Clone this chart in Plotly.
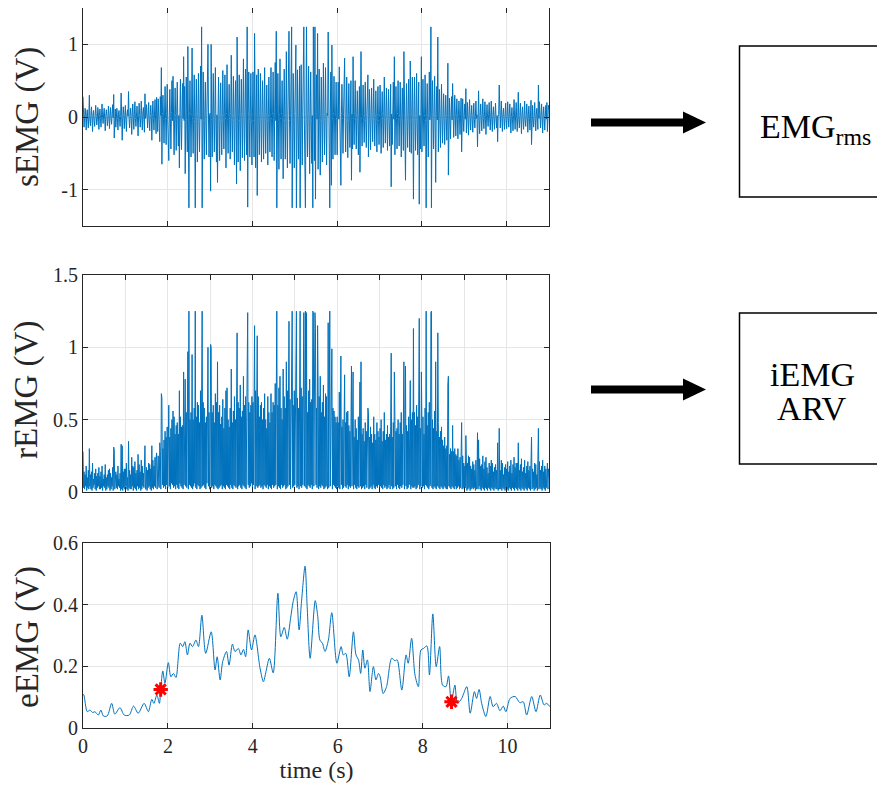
import numpy as np
import plotly.graph_objects as go

# ---------------- data ----------------
dt = 0.0125  # seconds between sEMG samples

semg = [
    0.28, 0.03, -0.14, -0.02, 0.12, 0.04, -0.18, 0.01, 0.10, -0.03, -0.15, 0.02, 0.30, -0.04, -0.12, 0.02,
    0.14, -0.01, -0.20, 0.03, 0.09, -0.05, -0.13, 0.02, 0.16, 0.01, -0.11, -0.03, 0.13, 0.04, -0.17, 0.02,
    0.11, -0.02, -0.14, 0.03, 0.18, -0.01, -0.09, 0.04, 0.12, -0.03, -0.19, 0.01, 0.10, 0.02, -0.12, -0.04,
    0.15, 0.03, -0.16, 0.01, 0.13, -0.02, -0.10, 0.04, 0.17, -0.01, 0.31, -0.29, 0.02, 0.11, -0.14, 0.03,
    0.12, -0.02, -0.18, 0.04, 0.09, -0.03, -0.13, 0.01, 0.33, 0.02, -0.32, -0.01, 0.14, 0.03, -0.16, 0.02,
    0.16, -0.04, -0.20, 0.02, 0.10, 0.01, 0.35, -0.03, -0.15, 0.02, 0.12, -0.02, -0.24, 0.04, 0.18, -0.01,
    -0.17, 0.03, 0.21, -0.02, -0.13, 0.01, 0.15, -0.04, -0.26, 0.02, 0.19, 0.03, -0.14, -0.01, 0.22, 0.02,
    -0.18, 0.04, 0.13, -0.03, -0.21, 0.32, -0.02, 0.02, 0.17, -0.01, -0.15, 0.03, 0.20, -0.04, -0.19, 0.02,
    0.16, 0.01, -0.32, 0.03, 0.22, -0.02, -0.18, 0.04, 0.24, -0.03, -0.23, 0.27, 0.02, -0.20, 0.25, -0.04,
    0.03, -0.34, 0.28, 0.02, 0.68, -0.65, 0.05, 0.30, -0.03, -0.36, 0.04, 0.42, -0.02, -0.38, 0.05, 0.45,
    -0.03, -0.48, -0.60, 0.04, 0.38, -0.02, -0.44, 0.06, 0.50, -0.05, 0.56, 0.03, -0.52, -0.04, 0.40, 0.02,
    -0.46, 0.05, 0.48, -0.03, -0.40, 0.02, -0.70, 0.06, 0.52, -0.04, -0.45, 0.03, 0.46, -0.02, 0.83, -0.05,
    0.42, -0.78, 0.04, 0.55, -0.03, -0.48, 0.97, 0.02, -1.25, 0.05, 0.50, -0.04, -0.55, 0.03, 0.95, -0.02,
    -0.50, 0.04, 0.58, -0.06, -1.25, 0.03, 0.52, -0.02, -0.62, 0.05, 0.60, -0.04, -0.48, 0.02, 0.70, -0.03,
    1.24, -1.25, 0.04, 0.62, -0.05, -0.58, 0.03, 0.48, -0.02, -0.52, 0.06, 0.75, 1.00, -0.04, -0.55, 0.02,
    0.05, -1.02, 1.00, -0.03, -0.55, 0.04, 0.60, -0.02, -0.48, 0.05, 0.68, -0.04, -0.62, 0.03, -0.90, 0.02,
    0.55, -0.03, -0.60, 0.04, 0.47, -0.05, -0.52, 0.02, 0.64, -0.04, -0.44, 0.03, 0.58, -0.02, -0.70, 0.05,
    0.72, -0.04, -0.50, 0.03, 0.45, -0.02, -0.58, 0.05, 0.85, -0.03, -0.48, 0.02, 0.56, -0.05, -0.66, 0.04,
    0.50, -0.03, -0.92, 1.10, 0.02, -0.62, 0.04, 0.58, -0.05, -0.74, 0.03, 0.52, -0.02, -0.56, 0.05, 0.80,
    -0.04, -0.60, 0.03, 0.66, -0.02, -0.52, 1.24, -1.24, 0.05, 0.62, -0.03, -0.55, 0.04, 0.60, -0.06, -0.66,
    0.03, 0.62, -0.05, -0.55, 1.15, -0.02, -0.70, 0.04, 0.58, -1.08, 0.03, 0.66, -0.04, -0.52, 0.05, 0.60,
    -0.03, -0.62, 0.04, 0.50, -0.02, -0.58, 0.05, 0.68, -0.04, -0.50, 0.03, 0.44, -0.05, -0.66, 0.02, 0.55,
    -0.04, -0.48, 0.03, 0.68, -0.02, -0.55, 0.05, 0.62, -0.03, -0.60, 0.04, 0.75, -0.05, 1.18, -1.25, 0.02,
    0.60, -0.04, -0.72, 0.03, 0.80, -0.02, -0.58, 0.05, 0.50, -0.03, -0.85, 0.04, 0.66, -0.05, -0.58, 0.02,
    0.90, -0.03, -0.70, 0.04, 0.62, 1.18, -0.05, -0.64, 0.02, 0.75, 1.24, -1.25, 0.03, 0.60, -0.04, -0.70,
    0.05, 0.72, 0.99, -1.25, 0.03, 0.65, -0.04, -0.58, 0.02, 0.70, -1.25, 0.04, 0.72, -0.03, -0.66, 0.05,
    0.60, 1.24, -0.04, -0.68, -1.25, 0.03, 1.24, -0.02, -0.55, 0.05, 0.70, -0.04, -0.78, 0.03, 0.62, -0.05,
    -0.64, 0.02, -1.25, 1.24, 0.04, -0.60, 1.24, -1.13, 0.05, 0.58, -0.03, 1.15, -0.72, 0.02, 0.66, -0.04,
    -0.80, 0.03, 0.55, -0.05, -0.62, 0.04, 0.74, -0.02, -0.52, 0.03, 0.68, -0.04, -0.66, 0.05, 0.02, 1.17,
    -0.03, -0.58, -1.25, 0.04, 0.62, -0.94, 0.99, -0.02, -0.58, 0.05, 0.56, -0.04, -0.52, 0.03, 0.48, -0.02,
    -0.52, 0.04, 0.48, -0.03, 0.69, 0.02, -0.45, -0.94, 0.05, 0.45, -0.02, -0.50, 0.03, 0.40, 0.81, -0.04,
    -0.48, 0.03, 0.55, -0.05, -0.56, 0.02, 0.46, -0.04, -0.42, 0.03, 0.50, -0.87, 0.04, -0.44, 0.83, -0.02,
    -0.38, 0.05, 0.50, -0.03, -0.44, 0.02, 0.36, -0.04, -0.52, 0.03, 0.42, -0.76, 0.04, 0.90, -0.02, -0.40,
    0.03, 0.44, -0.04, -0.35, 0.02, 0.48, -0.05, -0.42, 0.03, 0.40, 0.58, -0.55, 0.02, 0.38, -0.03, -0.45,
    0.04, 0.40, -0.02, -0.34, 0.05, 0.52, -0.03, -0.40, 0.02, 0.36, -0.04, -0.48, 0.03, 0.42, -0.05, -0.38,
    0.02, 0.44, -0.04, -0.50, 0.03, 0.35, -0.02, -0.42, 0.05, 0.55, -0.03, -0.36, 0.04, 0.40, -0.02, -0.46,
    0.03, 0.38, -0.05, -0.40, 0.02, 0.45, -0.96, 0.04, -0.38, 0.02, 0.48, -0.03, 0.83, -0.52, 0.04, 0.42,
    -0.02, -0.44, 0.05, 0.50, -0.03, -0.40, 0.02, 0.48, -0.04, -0.55, 0.03, 0.40, -0.05, -0.46, 0.90, 0.02,
    -0.48, -0.87, 0.04, 0.46, -0.02, -0.42, 0.03, 0.52, -0.05, -0.48, 0.77, 0.02, -0.50, 0.04, 0.55, -0.03,
    -1.13, 0.03, 0.55, -0.04, -0.46, 0.02, 0.60, -0.03, -0.52, 0.05, 0.48, -1.20, 0.02, -0.44, 0.04, 0.83,
    -0.48, 0.03, 0.52, -0.04, -0.40, 0.02, 0.58, -0.05, -1.25, 0.04, 0.46, -0.03, -0.55, 0.02, 0.62, -0.04,
    0.05, 1.24, -1.25, 0.03, 0.50, -0.02, -0.44, 0.04, 0.56, -0.03, -0.90, 0.02, 0.42, -0.04, 1.10, -0.48,
    0.03, 0.38, -0.02, -0.42, 0.04, 0.45, -0.03, -0.36, 0.02, 0.32, -0.04, -0.38, 0.03, 0.30, -0.02, -0.32,
    0.02, 0.74, -0.80, 0.04, 0.26, -0.03, -0.30, 0.02, 0.28, -0.04, 0.46, 0.03, -0.28, -0.02, 0.30, 0.04,
    -0.26, 0.02, 0.25, -0.03, -0.30, 0.04, 0.22, -0.02, -0.24, 0.03, 0.26, -0.48, 0.02, 0.25, -0.03, -0.20,
    0.02, 0.18, -0.03, 0.39, -0.22, 0.01, 0.20, -0.02, -0.25, 0.03, 0.24, -0.01, -0.18, 0.02, 0.16, -0.03,
    -0.21, 0.02, 0.19, -0.03, -0.15, 0.01, 0.22, -0.02, 0.03, -0.41, 0.02, 0.36, -0.04, -0.23, 0.02, 0.18,
    -0.01, -0.19, 0.03, 0.25, -0.02, -0.16, 0.01, 0.21, -0.03, -0.24, 0.02, 0.17, -0.01, -0.13, 0.03, 0.20,
    -0.02, -0.18, 0.01, 0.22, -0.03, -0.20, 0.02, 0.14, -0.01, -0.17, 0.03, 0.19, -0.02, -0.15, 0.02, -0.34,
    0.01, 0.03, 0.44, -0.02, -0.15, 0.02, 0.22, -0.01, -0.20, 0.03, 0.12, -0.02, -0.17, 0.01, 0.19, -0.03,
    -0.16, 0.02, 0.21, -0.01, -0.14, 0.03, 0.18, -0.02, -0.22, 0.01, 0.13, -0.03, -0.19, 0.02, 0.24, -0.01,
    -0.17, 0.03, 0.20, -0.02, -0.20, 0.01, 0.34, -0.03, -0.15, 0.02, 0.19, -0.01, -0.23, 0.03, 0.14, -0.02,
    -0.17, 0.01, 0.22, -0.03, -0.13, 0.02, 0.18, -0.01, -0.21, 0.03, 0.15, -0.02, -0.18, 0.01, 0.23, -0.38,
    0.02, 0.16, -0.03, -0.14, 0.01, 0.20, -0.02, -0.19, 0.03, 0.12, -0.01, -0.17, 0.44, -0.02, 0.21, -0.03,
    -0.15, 0.02, 0.18, -0.01, -0.22, 0.03, 0.14, -0.02, -0.18, 0.01, 0.16, -0.03, 0.20, -0.20, 0.02, 0.16,
    0.10,
]

eemg_t = [0.0, 0.02, 0.10, 0.165, 0.23, 0.28, 0.36, 0.42, 0.48, 0.57, 0.675, 0.75, 0.87, 0.97,
          1.09, 1.19, 1.30, 1.44, 1.54, 1.62, 1.67, 1.74, 1.80, 1.83, 1.88, 1.93, 2.01, 2.07,
          2.13, 2.19, 2.29, 2.35, 2.40, 2.46, 2.52, 2.58, 2.66, 2.72, 2.80, 2.89, 3.02, 3.11,
          3.16, 3.23, 3.29, 3.38, 3.44, 3.52, 3.58, 3.66, 3.72, 3.78, 3.83, 3.89, 3.97, 4.05,
          4.17, 4.25, 4.31, 4.39, 4.48, 4.59, 4.66, 4.74, 4.81, 4.89, 4.95, 5.02, 5.09, 5.15,
          5.23, 5.28, 5.35, 5.47, 5.53, 5.58, 5.64, 5.70, 5.78, 5.86, 5.98, 6.08, 6.13, 6.19,
          6.27, 6.37, 6.43, 6.49, 6.54, 6.59, 6.64, 6.70, 6.76, 6.84, 6.90, 6.96, 7.00, 7.07,
          7.15, 7.27, 7.35, 7.40, 7.51, 7.61, 7.66, 7.74, 7.82, 7.90, 7.96, 8.02, 8.10, 8.16,
          8.24, 8.32, 8.40, 8.47, 8.55, 8.61, 8.66, 8.68, 8.76, 8.82, 8.92, 9.04, 9.12, 9.22,
          9.27, 9.33, 9.39, 9.49, 9.59, 9.66, 9.74, 9.82, 9.90, 9.96, 10.06, 10.18, 10.29,
          10.37, 10.45, 10.57, 10.67, 10.77, 10.86, 10.92, 11.0]
eemg_v = [0.110, 0.107, 0.053, 0.058, 0.050, 0.053, 0.042, 0.058, 0.039, 0.039, 0.080, 0.045,
          0.066, 0.042, 0.042, 0.071, 0.048, 0.080, 0.053, 0.093, 0.080, 0.107, 0.080, 0.125,
          0.185, 0.145, 0.212, 0.166, 0.177, 0.164, 0.275, 0.264, 0.280, 0.237, 0.275, 0.264,
          0.285, 0.264, 0.366, 0.242, 0.312, 0.188, 0.231, 0.156, 0.215, 0.248, 0.204, 0.272,
          0.248, 0.258, 0.237, 0.255, 0.231, 0.318, 0.253, 0.302, 0.194, 0.150, 0.183, 0.226,
          0.179, 0.437, 0.296, 0.326, 0.288, 0.356, 0.410, 0.442, 0.318, 0.415, 0.525, 0.394,
          0.226, 0.413, 0.361, 0.285, 0.275, 0.248, 0.285, 0.374, 0.210, 0.264, 0.237, 0.242,
          0.166, 0.312, 0.237, 0.221, 0.177, 0.253, 0.194, 0.221, 0.118, 0.199, 0.156, 0.177,
          0.166, 0.112, 0.134, 0.226, 0.218, 0.221, 0.123, 0.237, 0.210, 0.291, 0.172, 0.134,
          0.253, 0.258, 0.266, 0.172, 0.370, 0.199, 0.264, 0.139, 0.134, 0.169, 0.096, 0.085,
          0.139, 0.080, 0.096, 0.134, 0.048, 0.118, 0.096, 0.125, 0.080, 0.037, 0.102, 0.069,
          0.080, 0.056, 0.071, 0.053, 0.096, 0.102, 0.082, 0.085, 0.042, 0.102, 0.053, 0.107,
          0.075, 0.080, 0.069]

onset_t = [1.83, 8.68]
onset_v = [0.125, 0.085]

# ---------------- figure ----------------
W, H = 885, 792
OFF = 8  # the page body adds an 8 px margin; positions below are screen pixels
BLUE = "#0072BD"
AX = "#262626"
GRID = "#e6e6e6"
SERIF = "Liberation Serif, Times New Roman, serif"

t_semg = np.arange(len(semg)) * dt
remg = np.abs(np.array(semg))

fig = go.Figure()
fig.add_trace(go.Scatter(x=t_semg, y=semg, mode="lines", line=dict(color=BLUE, width=1),
                         xaxis="x", yaxis="y", showlegend=False))
fig.add_trace(go.Scatter(x=t_semg, y=remg, mode="lines", line=dict(color=BLUE, width=1),
                         xaxis="x2", yaxis="y2", showlegend=False))
fig.add_trace(go.Scatter(x=eemg_t, y=eemg_v, mode="lines",
                         line=dict(color=BLUE, width=1, shape="spline", smoothing=0.8),
                         xaxis="x3", yaxis="y3", showlegend=False))
fig.add_trace(go.Scatter(x=onset_t, y=onset_v, mode="markers",
                         marker=dict(symbol="circle", size=8, color="#ff0000", line=dict(width=0)),
                         xaxis="x3", yaxis="y3", showlegend=False))
fig.add_trace(go.Scatter(x=onset_t, y=onset_v, mode="markers",
                         marker=dict(symbol="asterisk-open", size=12, color="#ff0000",
                                     line=dict(width=3, color="#ff0000")),
                         xaxis="x3", yaxis="y3", showlegend=False))


def fx(p):
    return (p - OFF) / W


def fy(p):
    return 1 - (p - OFF) / H


def px_x(a, b):
    return [fx(a), fx(b)]


def px_y(top, bottom):
    return [fy(bottom), fy(top)]


tickfont = dict(family=SERIF, size=20, color=AX)


def xax(domain, anchor, dtick, labels):
    return dict(domain=domain, anchor=anchor, range=[0, 11], dtick=dtick, tick0=0,
                showticklabels=labels, ticks="inside", ticklen=5, tickcolor=AX,
                showline=True, linecolor=AX, linewidth=1, mirror="allticks",
                showgrid=True, gridcolor=GRID, gridwidth=1, zeroline=False,
                tickfont=tickfont, automargin=False)


def yax(domain, anchor, rng, vals, texts):
    return dict(domain=domain, anchor=anchor, range=rng, tickvals=vals, ticktext=texts,
                ticks="inside", ticklen=5, tickcolor=AX,
                showline=True, linecolor=AX, linewidth=1, mirror="allticks",
                showgrid=True, gridcolor=GRID, gridwidth=1, zeroline=False,
                tickfont=tickfont, automargin=False)


xa3 = xax(px_x(83, 550), "y3", 2, True)
xa3["title"] = dict(text="time (s)", font=dict(family=SERIF, size=24, color=AX), standoff=4)

fig.update_layout(
    width=W, height=H,
    font=dict(family=SERIF, color=AX),
    margin=dict(l=0, r=0, t=0, b=0, autoexpand=False),
    paper_bgcolor="white", plot_bgcolor="white",
    xaxis=xax(px_x(83, 549), "y", 2, False),
    yaxis=yax(px_y(8, 226), "x", [-1.5, 1.5], [-1, 0, 1], ["-1", "0", "1"]),
    xaxis2=xax(px_x(83, 549), "y2", 1, False),
    yaxis2=yax(px_y(275, 492), "x2", [0, 1.5], [0, 0.5, 1, 1.5], ["0", "0.5", "1", "1.5"]),
    xaxis3=xa3,
    yaxis3=yax(px_y(543, 728), "x3", [0, 0.6], [0, 0.2, 0.4, 0.6], ["0", "0.2", "0.4", "0.6"]),
)

# y-axis titles
ylab_font = dict(family=SERIF, size=33, color=AX)
for txt, yc in [("sEMG (V)", 117), ("rEMG (V)", 390), ("eEMG (V)", 637)]:
    fig.add_annotation(text=txt, xref="paper", yref="paper", x=fx(27), y=fy(yc),
                       textangle=-90, showarrow=False, font=ylab_font,
                       xanchor="center", yanchor="middle")

# arrows (shaft + head) and boxes on the right
shapes = []
for yc in [122.5, 389.5]:
    shapes.append(dict(type="rect", xref="paper", yref="paper",
                       x0=fx(591), x1=fx(685), y0=fy(yc + 4), y1=fy(yc - 4),
                       fillcolor="black", line=dict(width=0)))
    shapes.append(dict(type="path", xref="paper", yref="paper",
                       path=f"M {fx(683)} {fy(yc - 11)} L {fx(706)} {fy(yc)} L {fx(683)} {fy(yc + 11)} Z",
                       fillcolor="black", line=dict(width=0)))
for top, bot in [(46, 197), (313, 464)]:
    shapes.append(dict(type="rect", xref="paper", yref="paper",
                       x0=fx(739.5), x1=fx(900), y0=fy(bot), y1=fy(top),
                       fillcolor="rgba(0,0,0,0)", line=dict(color="black", width=1.5)))
fig.update_layout(shapes=shapes)

box_font = dict(family=SERIF, size=34, color="black")
fig.add_annotation(text="EMG<sub>rms</sub>", xref="paper", yref="paper", x=fx(815), y=fy(129),
                   showarrow=False, font=box_font, xanchor="center", yanchor="middle")
fig.add_annotation(text="iEMG", xref="paper", yref="paper", x=fx(812), y=fy(374),
                   showarrow=False, font=box_font, xanchor="center", yanchor="middle")
fig.add_annotation(text="ARV", xref="paper", yref="paper", x=fx(812), y=fy(408),
                   showarrow=False, font=box_font, xanchor="center", yanchor="middle")

fig.write_html("out.html")
